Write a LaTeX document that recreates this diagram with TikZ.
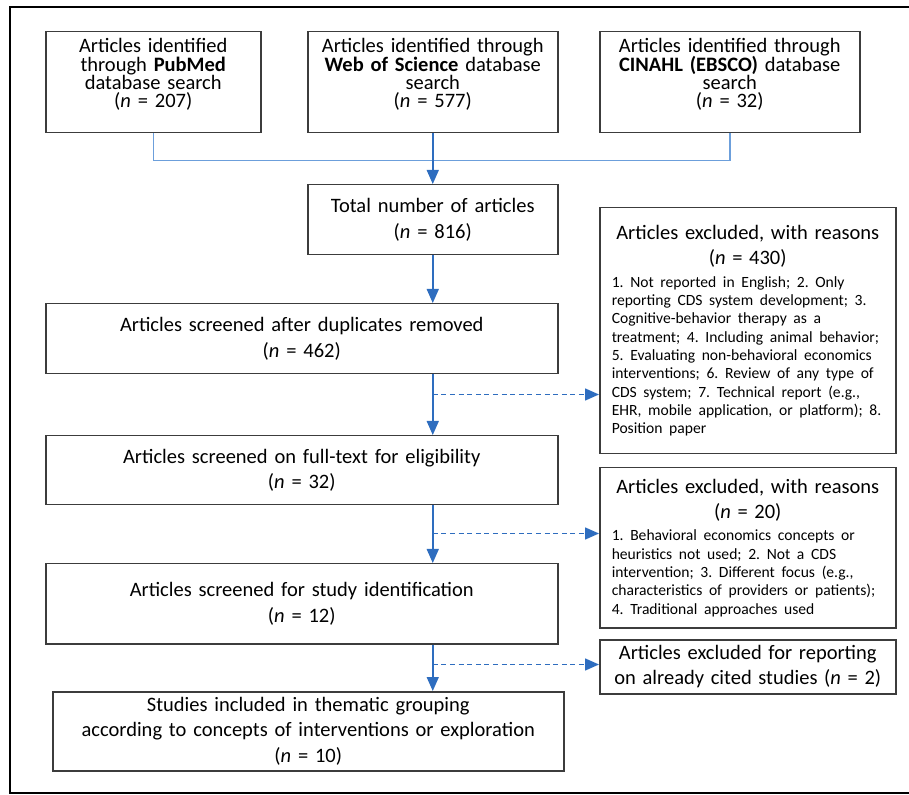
\documentclass[tikz,border=0pt]{standalone}
\usepackage{fontspec}
\setmainfont{Carlito}
\usetikzlibrary{arrows.meta,positioning,calc}
\definecolor{boxgray}{HTML}{3C3C3C}
\definecolor{flowblue}{HTML}{2E6DBF}
\definecolor{joinblue}{HTML}{6C9FDB}
\tikzset{
  box/.style={rectangle, draw=boxgray, line width=0.75pt, align=center, inner xsep=0pt, inner ysep=2pt, anchor=north west, font=\fontsize{10.25}{12.8}\selectfont},
  srcbox/.style={box, font=\fontsize{10.25}{9.15}\selectfont, execute at begin node={\lineskiplimit=-9pt\relax}},
  exbox/.style={rectangle, draw=boxgray, line width=0.75pt, anchor=north west, inner xsep=6pt, inner ysep=2pt, text width=136pt},
  flow/.style={draw=flowblue, line width=0.75pt, -{Triangle[length=7pt,width=6pt]}},
  side/.style={flow, dash pattern=on 2.5pt off 1.8pt},
  merge/.style={draw=joinblue, line width=0.75pt}
}
\newcommand{\hdr}{\centering\fontsize{10.25}{12.5}\selectfont}
\newcommand{\rsn}{\raggedright\fontsize{7.8}{9.15}\selectfont}
\frenchspacing
\begin{document}
\begin{tikzpicture}[x=0.5pt,y=-0.5pt]
\useasboundingbox (0,0) rectangle (909,795);
\draw[line width=0.75pt] (10,7) rectangle (915,793);
\node[srcbox, text width=107.5pt, minimum height=50.5pt] (pubmed) at (45,31) {Articles identified\\ through \textbf{PubMed}\\ database search\\ (\textit{n} = 207)\\ \mbox{}};
\node[srcbox, text width=125pt, minimum height=50.5pt] (wos) at (307,31) {Articles identified through\\ \textbf{Web of Science} database\\ search\\ (\textit{n} = 577)\\ \mbox{}};
\node[srcbox, text width=130pt, minimum height=50.5pt] (cinahl) at (599,31) {Articles identified through\\ \textbf{CINAHL (EBSCO)} database\\ search\\ (\textit{n} = 32)\\ \mbox{}};
\node[box, text width=125pt, minimum height=35pt] (total) at (307,184) {Total number of articles\\ (\textit{n} = 816)};
\node[box, text width=256pt, minimum height=35pt] (dedup) at (45,303) {Articles screened after duplicates removed\\ (\textit{n} = 462)};
\node[box, text width=256pt, minimum height=34.5pt] (fulltext) at (45,435) {Articles screened on full-text for eligibility\\ (\textit{n} = 32)};
\node[box, text width=256pt, minimum height=40pt] (studyid) at (45,563) {Articles screened for study identification\\ (\textit{n} = 12)};
\node[box, text width=255.5pt, minimum height=39.5pt] (included) at (52,691) {Studies included in thematic grouping\\ according to concepts of interventions or exploration\\ (\textit{n} = 10)};
\node[exbox, minimum height=123pt] (excl1) at (599,207) {{\hdr Articles excluded, with reasons\\ (\textit{n} = 430)\par}\vspace{2.3pt}{\rsn 1. Not reported in English; 2. Only\\ reporting CDS system development; 3.\\ Cognitive-behavior therapy as a\\ treatment; 4. Including animal behavior;\\ 5. Evaluating non-behavioral economics\\ interventions; 6. Review of any type of\\ CDS system; 7. Technical report (e.g.,\\ EHR, mobile application, or platform); 8.\\ Position paper\par}};
\node[exbox, minimum height=80pt] (excl2) at (599,467) {{\hdr Articles excluded, with reasons\\ (\textit{n} = 20)\par}\vspace{2.3pt}{\rsn 1. Behavioral economics concepts or\\ heuristics not used; 2. Not a CDS\\ intervention; 3. Different focus (e.g.,\\ characteristics of providers or patients);\\ 4. Traditional approaches used\par}};
\node[exbox, minimum height=27pt] (excl3) at (599,639) {{\hdr Articles excluded for reporting\\ on already cited studies (\textit{n} = 2)\par}};
\draw[merge] (pubmed.south) -- ++(0,27) -| (cinahl.south);
\draw[flow] (wos.south) -- (total.north);
\draw[flow] (total.south) -- (total.south |- dedup.north);
\draw[flow] (total.south |- dedup.south) -- (total.south |- fulltext.north);
\draw[flow] (total.south |- fulltext.south) -- (total.south |- studyid.north);
\draw[flow] (total.south |- studyid.south) -- (total.south |- included.north);
\coordinate (s1) at ($(total.south |- dedup.south)+(0,20)$);
\coordinate (s2) at ($(total.south |- fulltext.south)+(0,28)$);
\coordinate (s3) at ($(total.south |- studyid.south)+(0,20)$);
\draw[side] (s1) -- (s1 -| excl1.west);
\draw[side] (s2) -- (s2 -| excl2.west);
\draw[side] (s3) -- (s3 -| excl3.west);
\end{tikzpicture}
\end{document}
